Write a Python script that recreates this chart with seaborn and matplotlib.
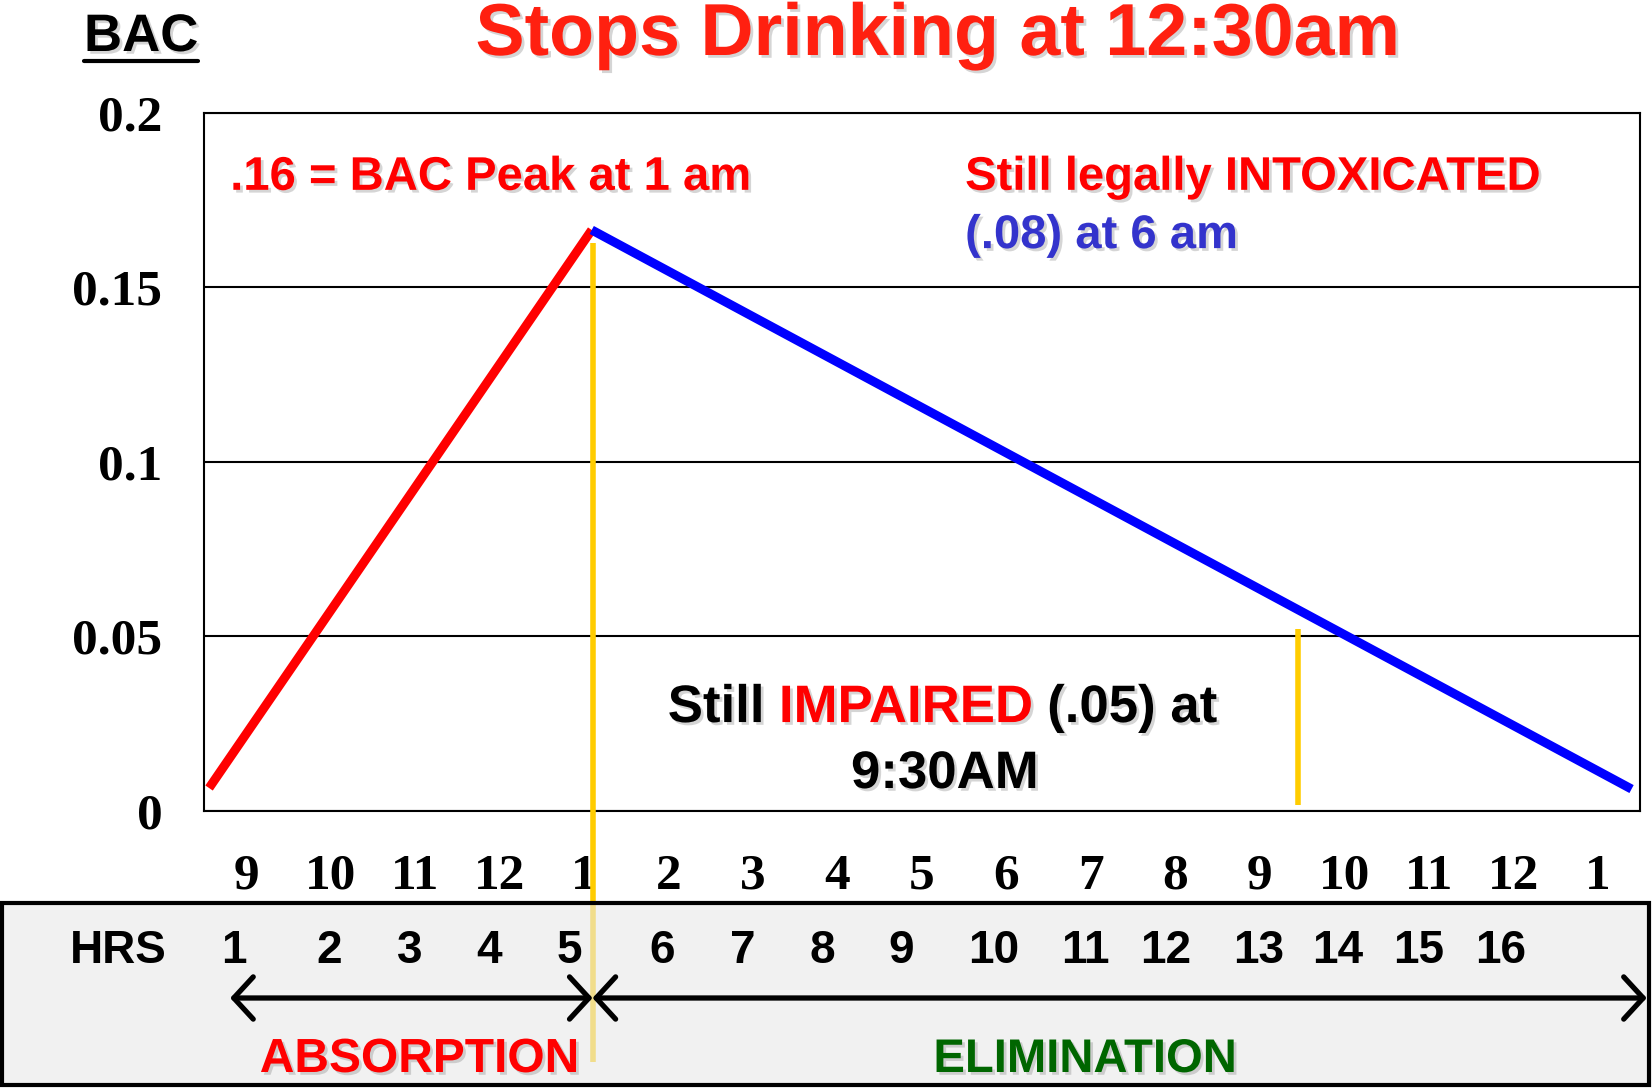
import matplotlib
matplotlib.use("Agg")
import matplotlib.pyplot as plt
import matplotlib.patheffects as pe
from matplotlib.patches import Rectangle, FancyArrowPatch
from matplotlib.lines import Line2D
from matplotlib.transforms import blended_transform_factory
import seaborn as sns

# clock hours along the x axis (one slot per hour, 9pm -> 1pm)
clock_labels = ["9", "10", "11", "12", "1", "2", "3", "4", "5",
                "6", "7", "8", "9", "10", "11", "12", "1"]
# hours since first drink, printed in the lower box
hrs_labels = ["1", "2", "3", "4", "5", "6", "7", "8",
              "9", "10", "11", "12", "13", "14", "15", "16"]

# BAC curve (x = hour slots from the left axis)
absorb_t = [0.06, 4.59]
absorb_bac = [0.0065, 0.1664]
elim_t = [4.59, 16.9]
elim_bac = [0.1664, 0.0062]

# yellow markers: peak at 1am and 9:30am
marker_t = [4.6, 12.95]
marker_top = [0.1627, 0.052]
marker_bottom = [-0.072, 0.0015]

y_ticks = [0, 0.05, 0.1, 0.15, 0.2]
y_labels = ["0", "0.05", "0.1", "0.15", "0.2"]

# where the HRS numbers sit (in hour slots), as typed on the slide
hrs_x = [0.355, 1.48, 2.43, 3.37, 4.32, 5.42, 6.38, 7.32,
         8.25, 9.35, 10.43, 11.39, 12.49, 13.42, 14.38, 15.35]

sns.set_style("white")
plt.rcParams["font.family"] = ["Liberation Sans", "DejaVu Sans"]

W, H = 1652, 1088
fig = plt.figure(figsize=(W / 100, H / 100), dpi=100)
ax = fig.add_axes([204 / W, 1 - 810.7 / H, (1640 - 204) / W, (810.7 - 112.7) / H])

shadow = [pe.withSimplePatchShadow(offset=(2, -2), shadow_rgbFace="#888888", alpha=0.35)]
sans = dict(family=["Liberation Sans", "DejaVu Sans"], weight="bold")
serif = dict(family=["Liberation Serif", "DejaVu Serif"], weight="bold")

# the curve
sns.lineplot(x=absorb_t, y=absorb_bac, ax=ax, color="#ff0000", linewidth=6.5,
             solid_capstyle="butt", zorder=4)
sns.lineplot(x=elim_t, y=elim_bac, ax=ax, color="#0000ff", linewidth=6.5,
             solid_capstyle="butt", zorder=4)
ax.vlines(marker_t, marker_bottom, marker_top, colors="#ffcc00", linewidth=4,
          clip_on=False, zorder=3)

ax.set_xlim(0, 17)
ax.set_ylim(0, 0.2)

# axes styling
ax.set_yticks(y_ticks, y_labels)
ax.set_xticks([i + 0.5 for i in range(len(clock_labels))], clock_labels)
ax.set_xticks(range(len(clock_labels) + 1), minor=True)
ax.tick_params(axis="y", direction="out", length=12, width=1.5, pad=18, colors="black")
ax.tick_params(axis="x", which="major", direction="in", length=7.5, width=1.5, pad=31,
               colors="black")
ax.tick_params(axis="x", which="minor", direction="inout", length=22, width=1.5,
               colors="black")
for lbl in ax.get_yticklabels():
    lbl.set(fontsize=37, **serif)
for lbl in ax.get_xticklabels():
    lbl.set(fontsize=37, **serif)
ax.yaxis.grid(True, color="black", linewidth=1.5)
ax.xaxis.grid(False)
for s in ax.spines.values():
    s.set_color("black")
    s.set_linewidth(1.5)
ax.set_xlabel("")
ax.set_ylabel("")

# titles
fig.text(938 / W, 1 - 55 / H, "Stops Drinking at 12:30am", ha="center", va="baseline",
         fontsize=53, color="#ff2010", path_effects=shadow, **sans)
bac = fig.text(84 / W, 1 - 51 / H, "BAC", ha="left", va="baseline",
               fontsize=38, color="black", path_effects=shadow, **sans)

# annotations in the plot
ax.text(0.31, 0.1779, ".16 = BAC Peak at 1 am", color="#ff0000", fontsize=34,
        va="baseline", path_effects=shadow, **sans)
ax.text(9.01, 0.1779, "Still legally INTOXICATED", color="#ff0000", fontsize=34,
        va="baseline", path_effects=shadow, **sans)
ax.text(9.01, 0.1612, "(.08) at 6 am", color="#3333cc", fontsize=34,
        va="baseline", path_effects=shadow, **sans)
t1 = ax.text(5.49, 0.0254, "Still", color="black", fontsize=38,
             va="baseline", path_effects=shadow, **sans)
t2 = ax.annotate(" IMPAIRED", xy=(1, 0), xycoords=t1, va="bottom", color="#ff0000",
                 fontsize=38, path_effects=shadow, **sans)
ax.annotate(" (.05) at", xy=(1, 0), xycoords=t2, va="bottom", color="black",
            fontsize=38, path_effects=shadow, **sans)
ax.text(8.77, 0.0065, "9:30AM", color="black", fontsize=38, ha="center",
        va="baseline", path_effects=shadow, **sans)

# lower box with hours, arrows and phases
box = Rectangle((2 / W, 1 - 1085 / H), (1649 - 2) / W, (1085 - 903) / H,
                transform=fig.transFigure, facecolor=(0.913, 0.913, 0.913, 0.6),
                edgecolor="black", linewidth=3, zorder=1)
fig.add_artist(box)

blend = blended_transform_factory(ax.transData, fig.transFigure)
y_hrs = 1 - 963 / H
fig.text(118 / W, y_hrs, "HRS", ha="center", va="baseline", fontsize=33,
         color="black", zorder=3, **sans)
for x, lbl in zip(hrs_x, hrs_labels):
    fig.text(x, y_hrs, lbl, transform=blend, ha="center", va="baseline",
             fontsize=33, color="black", zorder=3, **sans)

y_arrow = 1 - 998 / H
for xa, xb in [(0.31, 4.6), (4.6, 17.08)]:
    arr = FancyArrowPatch((xa, y_arrow), (xb, y_arrow), transform=blend,
                          arrowstyle="<->,head_length=0.35,head_width=0.38",
                          mutation_scale=40, linewidth=3.8, color="black",
                          shrinkA=0, shrinkB=0, capstyle="round", joinstyle="round",
                          zorder=2)
    fig.add_artist(arr)

y_phase = 1 - 1072 / H
fig.text(2.55, y_phase, "ABSORPTION", transform=blend, ha="center", va="baseline",
         fontsize=34.5, color="#ff0000", zorder=3, path_effects=shadow, **sans)
fig.text(10.43, y_phase, "ELIMINATION", transform=blend, ha="center", va="baseline",
         fontsize=34, color="#006600", zorder=3, path_effects=shadow, **sans)

# underline under BAC
fig.canvas.draw()
bb = bac.get_window_extent()
fig.add_artist(Line2D([bb.x0 / W, bb.x1 / W], [1 - 61 / H, 1 - 61 / H],
                      transform=fig.transFigure, color="black", linewidth=3))

fig.savefig("out.png", dpi=100)
